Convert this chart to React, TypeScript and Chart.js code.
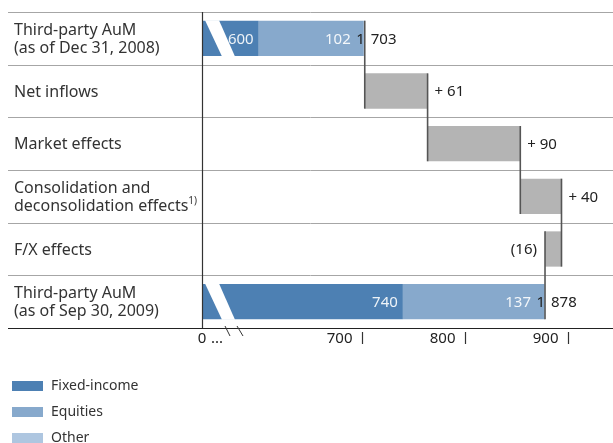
import React, { useEffect, useRef } from "react";
import { Chart, registerables } from "chart.js";

Chart.register(...registerables);

const categories: string[][] = [
  ["Third-party AuM", "(as of Dec 31, 2008)"],
  ["Net inflows"],
  ["Market effects"],
  ["Consolidation and", "deconsolidation effects"],
  ["F/X effects"],
  ["Third-party AuM", "(as of Sep 30, 2009)"],
];
const footnotes: (string | null)[] = [null, null, null, "1)", null, null];

const fixedIncome: (number | null)[] = [600, null, null, null, null, 740];
const equities: (number | null)[] = [102, null, null, null, null, 137];
const other: (number | null)[] = [1, null, null, null, null, 1];
const changes: (number | null)[] = [null, 61, 90, 40, -16, null];

const xTicks = [700, 800, 900];
const xMin = 545;
const xMax = 944;

const seriesNames = ["Fixed-income", "Equities", "Other"];
const seriesColors = ["#4d80b3", "#87a9cc", "#aec6e0"];
const changeColor = "#b4b4b4";

const FONT = "'Noto Sans', sans-serif";
const TEXT = "#333333";

function totals(): (number | null)[] {
  return categories.map((_, i) =>
    fixedIncome[i] == null ? null : (fixedIncome[i] as number) + (equities[i] as number) + (other[i] as number)
  );
}

function buildChangeBars(): ([number, number] | null)[] {
  const t = totals();
  let cum = t[0] as number;
  return changes.map((c) => {
    if (c == null) return null;
    const a = cum;
    cum += c;
    return [Math.min(a, cum), Math.max(a, cum)];
  });
}

function cumulativeEnds(): number[] {
  const t = totals();
  const ends: number[] = [t[0] as number];
  let cum = t[0] as number;
  changes.forEach((c) => {
    if (c != null) {
      cum += c;
      ends.push(cum);
    }
  });
  return ends;
}

const wfPlugin = {
  id: "wf",
  beforeDatasetsDraw(chart: any) {
    const ctx = chart.ctx;
    const area = chart.chartArea;
    const y = chart.scales.y;
    const step = (area.bottom - area.top) / categories.length;
    ctx.save();
    ctx.strokeStyle = "#a6a6a6";
    ctx.lineWidth = 1;
    for (let i = 0; i < categories.length; i++) {
      const yy = Math.round(y.getPixelForValue(i) - step / 2) + 0.5;
      ctx.beginPath();
      ctx.moveTo(8, yy);
      ctx.lineTo(chart.width, yy);
      ctx.stroke();
    }
    ctx.restore();
  },
  afterDatasetsDraw(chart: any) {
    const ctx = chart.ctx;
    const area = chart.chartArea;
    const x = chart.scales.x;
    const L = area.left;
    const t = totals();

    ctx.save();
    // break stripes
    const metaF = chart.getDatasetMeta(0);
    categories.forEach((_, i) => {
      if (fixedIncome[i] == null) return;
      const el = metaF.data[i];
      const top = el.y - el.height / 2 - 0.5;
      const bot = el.y + el.height / 2 + 0.5;
      ctx.fillStyle = "#ffffff";
      ctx.beginPath();
      ctx.moveTo(L + 3, top);
      ctx.lineTo(L + 17, top);
      ctx.lineTo(L + 33, bot);
      ctx.lineTo(L + 20, bot);
      ctx.closePath();
      ctx.fill();
    });

    // zero line
    ctx.strokeStyle = "#333333";
    ctx.lineWidth = 1.2;
    ctx.beginPath();
    ctx.moveTo(L + 0.5, area.top);
    ctx.lineTo(L + 0.5, area.bottom);
    ctx.stroke();

    // bottom axis line
    ctx.strokeStyle = "#222222";
    ctx.lineWidth = 1.2;
    ctx.beginPath();
    ctx.moveTo(8, area.bottom + 0.5);
    ctx.lineTo(chart.width, area.bottom + 0.5);
    ctx.stroke();

    // connectors
    const ends = cumulativeEnds();
    const rowEls = categories.map((_, i) => {
      const ds = fixedIncome[i] != null ? 0 : 3;
      return chart.getDatasetMeta(ds).data[i];
    });
    ctx.strokeStyle = "#555555";
    ctx.lineWidth = 1.6;
    for (let k = 0; k < ends.length; k++) {
      const a = rowEls[k];
      const b = rowEls[k + 1];
      if (!a || !b) continue;
      const xx = x.getPixelForValue(ends[k]);
      ctx.beginPath();
      ctx.moveTo(xx, a.y - a.height / 2);
      ctx.lineTo(xx, b.y + b.height / 2);
      ctx.stroke();
    }

    // value labels
    ctx.textBaseline = "middle";
    ctx.font = `15px ${FONT}`;
    categories.forEach((_, i) => {
      const el = rowEls[i];
      const yc = el.y + 1;
      if (fixedIncome[i] != null) {
        const fi = fixedIncome[i] as number;
        const eq = equities[i] as number;
        const tot = t[i] as number;
        ctx.fillStyle = "rgba(255,255,255,0.9)";
        ctx.textAlign = "right";
        ctx.fillText(String(fi), x.getPixelForValue(fi) - 5, yc);
        ctx.fillText(String(eq), x.getPixelForValue(fi + eq) - 13, yc);
        ctx.fillStyle = "#222222";
        ctx.fillText(String(other[i]), x.getPixelForValue(tot), yc);
        ctx.textAlign = "left";
        ctx.fillText(String(tot), x.getPixelForValue(tot) + 6, yc);
      } else if (changes[i] != null) {
        const c = changes[i] as number;
        const bar = buildChangeBars()[i] as [number, number];
        ctx.fillStyle = "#222222";
        if (c >= 0) {
          ctx.textAlign = "left";
          ctx.fillText(`+ ${c}`, x.getPixelForValue(bar[1]) + 7, yc);
        } else {
          ctx.textAlign = "right";
          ctx.fillText(`(${-c})`, x.getPixelForValue(bar[0]) - 8, yc);
        }
      }
    });

    // category labels
    ctx.fillStyle = TEXT;
    ctx.textAlign = "left";
    ctx.font = `16px ${FONT}`;
    const yScale = chart.scales.y;
    categories.forEach((lines, i) => {
      const yc = yScale.getPixelForValue(i) + 1;
      const lh = 18;
      const y0 = yc - ((lines.length - 1) * lh) / 2;
      lines.forEach((ln, j) => {
        ctx.font = `16px ${FONT}`;
        ctx.fillText(ln, 14, y0 + j * lh);
        if (j === lines.length - 1 && footnotes[i]) {
          const w = ctx.measureText(ln).width;
          ctx.font = `10px ${FONT}`;
          ctx.fillText(footnotes[i] as string, 14 + w, y0 + j * lh - 5);
        }
      });
    });

    // x ticks
    ctx.font = `15px ${FONT}`;
    ctx.fillStyle = "#222222";
    ctx.strokeStyle = "#333333";
    ctx.lineWidth = 1.2;
    const ty = area.bottom + 11;
    xTicks.forEach((v) => {
      const px = Math.round(x.getPixelForValue(v)) + 0.5;
      ctx.textAlign = "right";
      ctx.fillText(String(v), px - 10, ty);
      ctx.beginPath();
      ctx.moveTo(px, area.bottom + 4);
      ctx.lineTo(px, area.bottom + 16);
      ctx.stroke();
    });
    ctx.textAlign = "center";
    ctx.fillText("0", L, ty);
    ctx.textAlign = "left";
    ctx.fillText("...", L + 9, ty);
    // break marks
    ctx.lineWidth = 1;
    [[23, 28], [35, 41]].forEach(([a, b]) => {
      ctx.beginPath();
      ctx.moveTo(L + a, area.bottom - 2);
      ctx.lineTo(L + b, area.bottom + 8);
      ctx.stroke();
    });

    // legend
    ctx.font = `14px ${FONT}`;
    ctx.textAlign = "left";
    seriesNames.forEach((name, k) => {
      const cy = 386 + k * 26;
      ctx.fillStyle = seriesColors[k];
      ctx.fillRect(12, cy - 5, 31, 10);
      ctx.fillStyle = TEXT;
      ctx.fillText(name, 51, cy);
    });
    ctx.restore();
  },
};

export default function App() {
  const ref = useRef<HTMLCanvasElement | null>(null);
  useEffect(() => {
    document.body.style.margin = "0";
    if (!ref.current) return;
    const fiBars = fixedIncome.map((v) => (v == null ? null : [0, v]));
    const eqBars = equities.map((v, i) =>
      v == null ? null : [fixedIncome[i] as number, (fixedIncome[i] as number) + v]
    );
    const t = totals();
    const otBars = other.map((v, i) => (v == null ? null : [(t[i] as number) - v, t[i] as number]));
    const chBars = buildChangeBars();
    const common = { grouped: false, barPercentage: 0.67, categoryPercentage: 1, borderWidth: 0 };
    const chart = new Chart(ref.current, {
      type: "bar",
      data: {
        labels: categories.map((c) => c.join(" ")),
        datasets: [
          { label: seriesNames[0], data: fiBars as any, backgroundColor: seriesColors[0], ...common },
          { label: seriesNames[1], data: eqBars as any, backgroundColor: seriesColors[1], ...common },
          { label: seriesNames[2], data: otBars as any, backgroundColor: seriesColors[2], ...common },
          { label: "Change", data: chBars as any, backgroundColor: changeColor, ...common },
        ],
      },
      options: {
        indexAxis: "y",
        animation: false,
        responsive: false,
        layout: { padding: { left: 202, right: 0, top: 12, bottom: 115 } },
        scales: {
          x: { type: "linear", min: xMin, max: xMax, display: false },
          y: { type: "category", display: false, offset: true },
        },
        plugins: { legend: { display: false }, tooltip: { enabled: false } },
      } as any,
      plugins: [wfPlugin as any],
    });
    return () => chart.destroy();
  }, []);
  return (
    <div style={{ width: 613, height: 443 }}>
      <canvas ref={ref} width={613} height={443} style={{ display: "block" }} />
    </div>
  );
}
